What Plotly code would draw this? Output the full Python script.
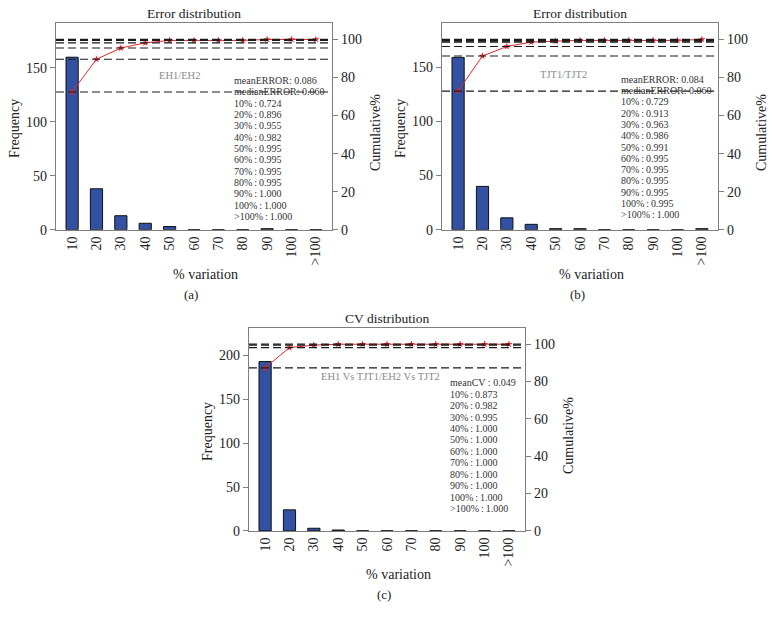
import plotly.graph_objects as go

categories = ["10", "20", "30", "40", "50", "60", "70", "80", "90", "100", ">100"]
stat_labels = ["10%", "20%", "30%", "40%", "50%", "60%", "70%", "80%", "90%", "100%", ">100%"]

freq_a = [160, 38, 13, 6, 3, 0, 0, 0, 1, 0, 0]
cum_a = [0.724, 0.896, 0.955, 0.982, 0.995, 0.995, 0.995, 0.995, 1.000, 1.000, 1.000]
head_a = ["meanERROR: 0.086", "medianERROR: 0.060"]

freq_b = [159, 40, 11, 5, 1, 1, 0, 0, 0, 0, 1]
cum_b = [0.729, 0.913, 0.963, 0.986, 0.991, 0.995, 0.995, 0.995, 0.995, 0.995, 1.000]
head_b = ["meanERROR: 0.084", "medianERROR: 0.060"]

freq_c = [193, 24, 3, 1, 0, 0, 0, 0, 0, 0, 0]
cum_c = [0.873, 0.982, 0.995, 1.000, 1.000, 1.000, 1.000, 1.000, 1.000, 1.000, 1.000]
head_c = ["meanCV : 0.049"]

FONT = "Liberation Serif"
W, H = 772, 631
AX = "#7f7f7f"

panels = [
    dict(xs="", y1="", y2="2", px=(56, 332), py=(23, 232.7), freq=freq_a, cum=cum_a, head=head_a,
         title="Error distribution", tag="EH1/EH2", tagx=0.449, tagy=0.747, label="(a)",
         yr=192, ytv=[0, 50, 100, 150], sx=0.638, sy=0.720, step=0.0546),
    dict(xs="2", y1="3", y2="4", px=(442, 718), py=(23, 232.7), freq=freq_b, cum=cum_b, head=head_b,
         title="Error distribution", tag="TJT1/TJT2", tagx=0.442, tagy=0.752, label="(b)",
         yr=191, ytv=[0, 50, 100, 150], sx=0.642, sy=0.727, step=0.0546),
    dict(xs="3", y1="5", y2="6", px=(249, 525), py=(332, 537.7), freq=freq_c, cum=cum_c, head=head_c,
         title="CV distribution", tag="EH1 Vs TJT1/EH2 Vs TJT2", tagx=0.475, tagy=0.762, label="(c)",
         yr=231.5, ytv=[0, 50, 100, 150, 200], sx=0.722, sy=0.729, step=0.0563),
]

fig = go.Figure()
layout = dict(width=W, height=H, margin=dict(l=0, r=0, t=0, b=0), paper_bgcolor="white",
              plot_bgcolor="white", showlegend=False, font=dict(family=FONT, color="#222"),
              annotations=[], shapes=[])

TICKF = dict(family=FONT, size=14, color="#222")

for p in panels:
    xid = "x" + p["xs"]
    yl = "y" + p["y1"]
    yr = "y" + p["y2"]
    xdom = [p["px"][0] / W, p["px"][1] / W]
    ydom = [1 - p["py"][1] / H, 1 - p["py"][0] / H]
    fig.add_trace(go.Bar(x=categories, y=p["freq"], xaxis=xid, yaxis=yl, width=0.5,
                         marker=dict(color="#3251a2", line=dict(color="#111", width=1))))
    fig.add_trace(go.Scatter(x=categories, y=[v * 100 for v in p["cum"]], xaxis=xid, yaxis=yr,
                             mode="lines+markers", line=dict(color="#e0262c", width=1),
                             marker=dict(symbol="star", size=5.5, color="#e0262c")))
    layout["xaxis" + p["xs"]] = dict(domain=xdom, anchor=yl, type="category", range=[-0.66, 10.66],
                                     showline=True, mirror=True, linecolor=AX, linewidth=1.3,
                                     ticks="", tickangle=-90, showgrid=False, zeroline=False,
                                     tickfont=TICKF)
    layout["yaxis" + p["y1"]] = dict(domain=ydom, anchor=xid, range=[0, p["yr"]], tickvals=p["ytv"],
                                     showline=True, linecolor=AX, linewidth=1.3, ticks="outside",
                                     ticklen=5, tickcolor=AX, showgrid=False, zeroline=False,
                                     tickfont=TICKF)
    layout["yaxis" + p["y2"]] = dict(overlaying=yl, side="right", anchor=xid, range=[0, 108.8],
                                     tickvals=[0, 20, 40, 60, 80, 100], showline=True, linecolor=AX,
                                     linewidth=1.3, ticks="outside", ticklen=5, tickcolor=AX,
                                     showgrid=False, zeroline=False, tickfont=TICKF)
    for v in sorted(set(p["cum"])):
        layout["shapes"].append(dict(type="line", xref=xid + " domain", yref=yr, x0=0, x1=1,
                                     y0=v * 100, y1=v * 100, layer="above",
                                     line=dict(color="#1a1a1a", width=1.2, dash="8px,4px")))
    dref = dict(xref=xid + " domain", yref=yl + " domain", showarrow=False, yanchor="middle")
    ann = layout["annotations"]
    ann.append(dict(text=p["title"], x=0.5, y=1.045, xanchor="center", font=dict(size=13.5, color="#222"), **dref))
    ann.append(dict(text="Frequency", x=-0.15, y=0.49, xanchor="center", textangle=-90, font=dict(size=14), **dref))
    ann.append(dict(text="Cumulative%", x=1.158, y=0.47, xanchor="center", textangle=-90, font=dict(size=14), **dref))
    ann.append(dict(text="% variation", x=0.54, y=-0.217, xanchor="center", font=dict(size=14), **dref))
    ann.append(dict(text=p["label"], x=0.49, y=-0.314, xanchor="center", font=dict(size=13), **dref))
    ann.append(dict(text=p["tag"], x=p["tagx"], y=p["tagy"], xanchor="center", font=dict(size=10.5, color="#8a8a8a"), **dref))
    lines = p["head"] + [f"{l}\u2009:\u2009{v:.3f}" for l, v in zip(stat_labels, p["cum"])]
    for i, t in enumerate(lines):
        ann.append(dict(text=t, x=p["sx"], y=p["sy"] - i * p["step"], xanchor="left",
                        font=dict(size=10, color="#333"), **dref))

fig.update_layout(**layout)
fig.write_html(
    "out.html", config={"displayModeBar": False},
    post_script=("var s=document.createElement('style');"
                 "s.textContent='html,body{margin:0;padding:0;overflow:hidden;}';"
                 "document.head.appendChild(s);"))
